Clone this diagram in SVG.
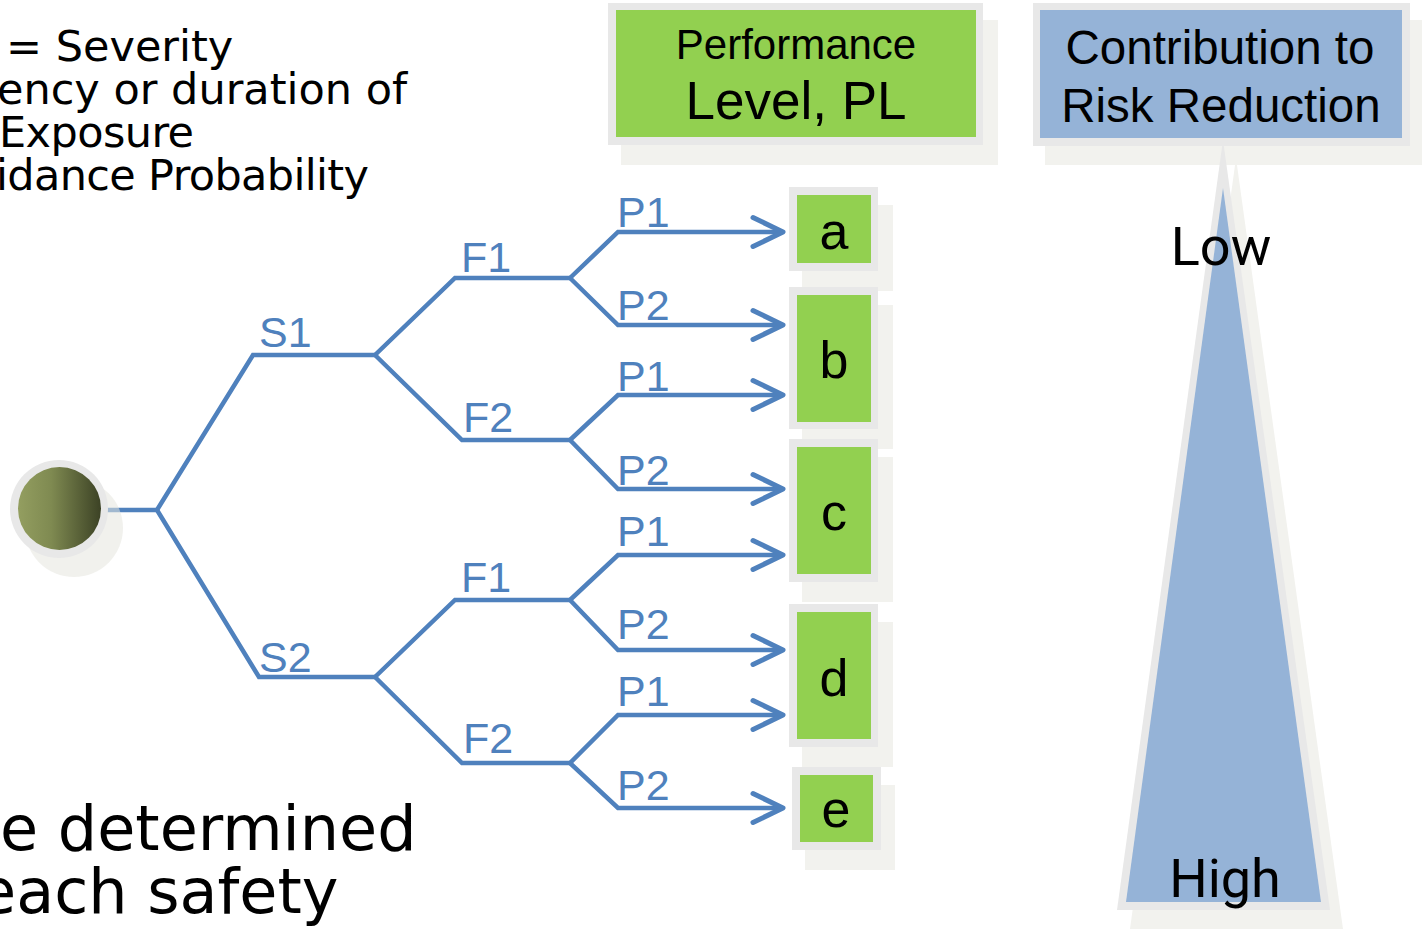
<svg xmlns="http://www.w3.org/2000/svg" width="1422" height="929" viewBox="0 0 1422 929">
<defs>
<style>
.lbl{font-family:"Liberation Sans",Arial,sans-serif;font-size:43px;fill:#4f81bd}
.conn{fill:none;stroke:#4f81bd;stroke-width:4.5;stroke-linejoin:miter}
.arr{fill:none;stroke:#4f81bd;stroke-width:4.5;marker-end:url(#chev)}
.frame{fill:#e8e8e8}
.shadow{fill:#f2f2ee}
.green{fill:#92d050}
.blue{fill:#95b3d7}
.lvl{font-family:"Liberation Sans",Arial,sans-serif;font-size:52px;fill:#000;text-anchor:middle}
.hdr{font-family:"Liberation Sans",Arial,sans-serif;fill:#000;text-anchor:middle}
.body{font-family:"DejaVu Sans",Verdana,sans-serif;fill:#000}
.rr{font-family:Roboto,"Liberation Sans",sans-serif;font-size:54px;fill:#000;text-anchor:middle}
</style>
<linearGradient id="ball" x1="0" y1="0" x2="1" y2="0">
<stop offset="0" stop-color="#939e60"/>
<stop offset="0.4" stop-color="#7f8a51"/>
<stop offset="1" stop-color="#3c4225"/>
</linearGradient>
<marker id="chev" markerUnits="userSpaceOnUse" markerWidth="40" markerHeight="40" viewBox="-34 -20 40 40" refX="0" refY="0" orient="auto" overflow="visible">
<path d="M-29,-14.5 L1,0 L-29,14.5" fill="none" stroke="#4f81bd" stroke-width="5" stroke-linecap="round" stroke-linejoin="round"/>
</marker>
</defs>

<g id="legend-text">
<text class="body" font-size="43" x="6" y="61">= Severity</text>
<text class="body" font-size="43" x="-3" y="104">ency or duration of</text>
<text class="body" font-size="43" x="-1" y="147" textLength="195" lengthAdjust="spacing">Exposure</text>
<text class="body" font-size="43" x="-4" y="190" textLength="373" lengthAdjust="spacing">idance Probability</text>
</g>

<g id="bottom-text">
<text class="body" font-size="62" x="0" y="850">e determined</text>
<text class="body" font-size="62" x="-22" y="913">each safety</text>
</g>

<g id="header-pl">
<rect class="shadow" x="621" y="20" width="377" height="145"/>
<rect class="frame" x="608" y="3" width="375" height="142"/>
<rect class="green" x="616" y="10" width="360" height="127"/>
<text class="hdr" font-size="42" x="796" y="59">Performance</text>
<text class="hdr" font-size="53" x="796" y="119">Level, PL</text>
</g>

<g id="header-rr">
<rect class="shadow" x="1045" y="20" width="377" height="145"/>
<polygon class="shadow" points="1236,158 1130,929 1343,929"/>
<rect class="frame" x="1033" y="3" width="377" height="143"/>
<polygon class="frame" points="1223,140 1117,910 1330,910"/>
<rect class="blue" x="1040" y="10" width="362" height="128"/>
<text class="hdr" font-size="47.5" x="1220" y="64">Contribution to</text>
<text class="hdr" font-size="47.5" x="1221" y="122">Risk Reduction</text>
</g>

<g id="risk-triangle">
<polygon class="blue" points="1223,188 1126,902 1321,902"/>
<text class="rr" x="1221" y="265">Low</text>
<text class="rr" x="1225" y="897">High</text>
</g>

<g id="connectors">
<path class="conn" d="M104,510 H157"/>
<path class="conn" d="M157,510 L253,355 H375"/>
<path class="conn" d="M157,510 L259,677 H375"/>
<path class="conn" d="M375,355 L455,278 H570"/>
<path class="conn" d="M375,355 L462,440 H570"/>
<path class="conn" d="M375,677 L455,600 H570"/>
<path class="conn" d="M375,677 L462,763 H570"/>
<path class="arr" d="M570,278 L618,232 H782"/>
<path class="arr" d="M570,278 L618,325 H782"/>
<path class="arr" d="M570,440 L618,395 H782"/>
<path class="arr" d="M570,440 L618,489 H782"/>
<path class="arr" d="M570,600 L618,555 H782"/>
<path class="arr" d="M570,600 L618,650 H782"/>
<path class="arr" d="M570,763 L618,715 H782"/>
<path class="arr" d="M570,763 L618,808 H782"/>
</g>

<g id="start">
<circle cx="74" cy="528" r="49" fill="#e6e6de" fill-opacity="0.55"/>
<circle cx="59" cy="509" r="49" fill="#e8e8e8"/>
<circle cx="59.5" cy="508.5" r="41.5" fill="url(#ball)"/>
</g>

<g id="labels">
<text class="lbl" x="259" y="347">S1</text>
<text class="lbl" x="259" y="672">S2</text>
<text class="lbl" x="461" y="272">F1</text>
<text class="lbl" x="463" y="432">F2</text>
<text class="lbl" x="461" y="592">F1</text>
<text class="lbl" x="463" y="753">F2</text>
<text class="lbl" x="617" y="227">P1</text>
<text class="lbl" x="617" y="320">P2</text>
<text class="lbl" x="617" y="391">P1</text>
<text class="lbl" x="617" y="485">P2</text>
<text class="lbl" x="617" y="546">P1</text>
<text class="lbl" x="617" y="639">P2</text>
<text class="lbl" x="617" y="706">P1</text>
<text class="lbl" x="617" y="800">P2</text>
</g>

<g id="pl-a">
<rect class="shadow" x="802" y="205" width="91" height="86"/>
<rect class="frame" x="789" y="187" width="89" height="84"/>
<rect class="green" x="797" y="195" width="74" height="68"/>
<text class="lvl" x="834" y="249">a</text>
</g>
<g id="pl-b">
<rect class="shadow" x="802" y="305" width="91" height="144"/>
<rect class="frame" x="789" y="287" width="89" height="142"/>
<rect class="green" x="797" y="295" width="74" height="127"/>
<text class="lvl" x="834" y="378">b</text>
</g>
<g id="pl-c">
<rect class="shadow" x="802" y="457" width="91" height="145"/>
<rect class="frame" x="789" y="439" width="89" height="143"/>
<rect class="green" x="797" y="447" width="74" height="127"/>
<text class="lvl" x="834" y="530">c</text>
</g>
<g id="pl-d">
<rect class="shadow" x="802" y="622" width="91" height="145"/>
<rect class="frame" x="789" y="604" width="89" height="143"/>
<rect class="green" x="797" y="612" width="74" height="127"/>
<text class="lvl" x="834" y="696">d</text>
</g>
<g id="pl-e">
<rect class="shadow" x="805" y="785" width="90" height="85"/>
<rect class="frame" x="792" y="767" width="89" height="83"/>
<rect class="green" x="800" y="775" width="73" height="67"/>
<text class="lvl" x="836" y="827">e</text>
</g>
</svg>
